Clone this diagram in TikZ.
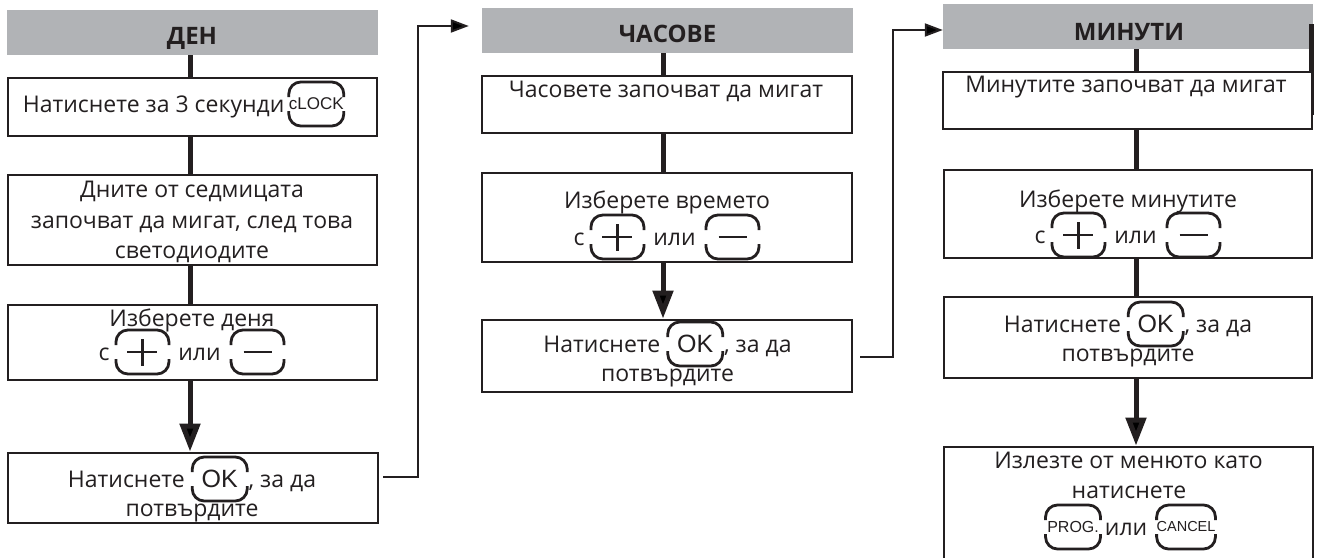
\documentclass[tikz,border=0pt]{standalone}
\usepackage{fontspec}
\setmainfont{Open Sans}
\newfontfamily\btnfamily{Liberation Sans}
\usetikzlibrary{arrows.meta}
\definecolor{ink}{RGB}{35,31,32}
\definecolor{hdrgray}{RGB}{177,179,182}
\tikzset{
  hdr/.style={fill=hdrgray, draw=none, inner sep=0pt, minimum height=45pt},
  panel/.style={draw=ink, line width=2.8pt, fill=white, inner sep=0pt},
  ltxt/.style={anchor=base, inner sep=0pt, text=ink, font=\fontsize{23}{27}\selectfont},
  htxt/.style={anchor=base, inner sep=0pt, text=ink, font=\fontsize{24}{28}\selectfont\bfseries},
  joint/.style={draw=ink, line width=5pt},
  flow/.style={draw=ink, line width=5pt, -{Triangle[width=20pt,length=28pt]}},
  jump/.style={draw=ink, line width=2pt, -{Triangle[width=13pt,length=18pt]}},
  btnnode/.style={inner sep=0pt, outer sep=0pt, minimum height=44pt, anchor=center, draw=none, fill=none, text=ink},
  btnline/.style={draw=ink, line width=2.8pt, rounded corners=12pt},
  signline/.style={draw=ink, line width=2.4pt},
}
\newcommand\kbtn[3][55pt]{\tikz[baseline={([yshift=-8pt]bb.center)}]{\node[btnnode, minimum width=#1] (bb) at (0pt,0pt) {#2};\draw[btnline] ([yshift=-15pt]bb.north west) |- (bb.north) -| ([yshift=-15pt]bb.north east);\draw[btnline] ([yshift=15pt]bb.south west) |- (bb.south) -| ([yshift=15pt]bb.south east);#3}}
\newcommand\plusbtn{\kbtn[53pt]{}{\draw[signline] ([xshift=-15pt]bb.center) -- ([xshift=15pt]bb.center);\draw[signline] ([yshift=-13.5pt]bb.center) -- ([yshift=13.5pt]bb.center);}}
\newcommand\minusbtn{\kbtn[53pt]{}{\draw[signline] ([xshift=-14pt]bb.center) -- ([xshift=14pt]bb.center);}}
\newcommand\smallbtn[2]{\kbtn{\btnfamily\fontsize{#1}{#1}\selectfont #2}{}}
\newcommand\okbtn{\kbtn{\btnfamily\fontsize{25}{25}\selectfont OK}{}}
\begin{document}
\begin{tikzpicture}[x=1pt,y=-1pt]
\useasboundingbox (0,0) rectangle (1317,557);
% headers
\node[hdr, minimum width=371pt] (h1) at (192.5,32.5) {};
\node[hdr, minimum width=371pt] (h2) at (667.5,30.5) {};
\node[hdr, minimum width=370pt] (h3) at (1128,26.5) {};
\node[htxt] (h1t) at (192,44) {ДЕН};
\node[htxt] (h2t) at (667.5,42) {ЧАСОВЕ};
\node[htxt] (h3t) at (1129,40) {МИНУТИ};
\fill[ink] (1309,24) rectangle (1314,115);
% column 1 boxes
\node[panel, minimum width=369pt, minimum height=58pt] (b1) at (192.5,107) {};
\node[panel, minimum width=369pt, minimum height=90pt] (b2) at (192.5,220) {};
\node[panel, minimum width=369pt, minimum height=75pt] (b3) at (192.5,342.5) {};
\node[panel, minimum width=370pt, minimum height=70pt] (b4) at (193,488) {};
% column 2 boxes
\node[panel, minimum width=370pt, minimum height=57pt] (b5) at (667,104.5) {};
\node[panel, minimum width=370pt, minimum height=89pt] (b6) at (667,217.5) {};
\node[panel, minimum width=370pt, minimum height=72pt] (b7) at (667,356) {};
% column 3 boxes
\node[panel, minimum width=369pt, minimum height=57pt] (b8) at (1127.5,100.5) {};
\node[panel, minimum width=368pt, minimum height=88pt] (b9) at (1128,214) {};
\node[panel, minimum width=368pt, minimum height=81pt] (b10) at (1128,337.5) {};
\node[panel, minimum width=369pt, minimum height=130pt] (b11) at (1128.5,512) {};
% texts column 1
\node[ltxt] (t1) at (184,112) {Натиснете за 3 секунди\hspace{3pt}\smallbtn{17}{cLOCK}};
\node[ltxt] (t2a) at (192,197) {Дните от седмицата};
\node[ltxt] (t2b) at (192,228) {започват да мигат, след това};
\node[ltxt] (t2c) at (192,258) {светодиодите};
\node[ltxt] (t3a) at (192,326) {Изберете деня};
\node[ltxt] (t3b) at (192,360) {с\hspace{5pt}\plusbtn\hspace{8pt}или\hspace{9pt}\minusbtn};
\node[ltxt] (t4a) at (192,487) {Натиснете \okbtn, за да};
\node[ltxt] (t4b) at (192,516) {потвърдите};
% texts column 2
\node[ltxt] (t5) at (666,97) {Часовете започват да мигат};
\node[ltxt] (t6a) at (667,208) {Изберете времето};
\node[ltxt] (t6b) at (667,245) {с\hspace{5pt}\plusbtn\hspace{8pt}или\hspace{9pt}\minusbtn};
\node[ltxt] (t7a) at (667.5,352) {Натиснете \okbtn, за да};
\node[ltxt] (t7b) at (667.5,381) {потвърдите};
% texts column 3
\node[ltxt] (t8) at (1126,92) {Минутите започват да мигат};
\node[ltxt] (t9a) at (1128,207) {Изберете минутите};
\node[ltxt] (t9b) at (1128,243) {с\hspace{5pt}\plusbtn\hspace{8pt}или\hspace{9pt}\minusbtn};
\node[ltxt] (t10a) at (1128,332) {Натиснете \okbtn, за да};
\node[ltxt] (t10b) at (1128,361) {потвърдите};
\node[ltxt] (t11a) at (1128.5,468) {Излезте от менюто като};
\node[ltxt] (t11b) at (1129,498) {натиснете};
\node[ltxt] (t11c) at (1130.5,535) {\smallbtn{16}{PROG.}\hspace{3pt}или\hspace{8pt}\smallbtn{14.5}{CANCEL}};
% vertical connectors
\coordinate (x1) at (190,0);
\coordinate (x2) at (663,0);
\coordinate (x3) at (1136,0);
\draw[joint] (h1.south -| x1) -- (b1.north -| x1);
\draw[joint] (b1.south -| x1) -- (b2.north -| x1);
\draw[joint] (b2.south -| x1) -- (b3.north -| x1);
\draw[flow] (b3.south -| x1) -- (b4.north -| x1);
\draw[joint] (h2.south -| x2) -- (b5.north -| x2);
\draw[joint] (b5.south -| x2) -- (b6.north -| x2);
\draw[flow] (b6.south -| x2) -- (b7.north -| x2);
\draw[joint] (h3.south -| x3) -- (b8.north -| x3);
\draw[joint] (b8.south -| x3) -- (b9.north -| x3);
\draw[joint] (b9.south -| x3) -- (b10.north -| x3);
\draw[flow] (b10.south -| x3) -- (b11.north -| x3);
% jump connectors
\coordinate (j1a) at (383,477);
\coordinate (j1b) at (418,26);
\draw[jump, shorten >=13pt] (j1a) -| (j1b) -- (h2.west |- j1b);
\coordinate (j2a) at (860,357);
\coordinate (j2b) at (893,30);
\draw[jump] (j2a) -| (j2b) -- (h3.west |- j2b);
\end{tikzpicture}
\end{document}
